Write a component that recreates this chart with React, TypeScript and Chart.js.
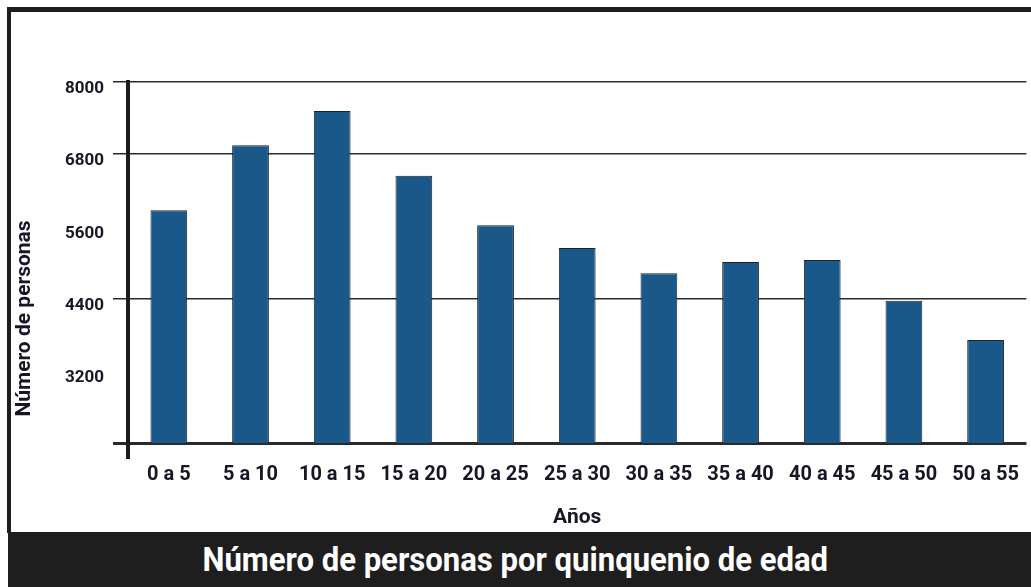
import React, { useEffect, useRef } from "react";
import { Chart, registerables } from "chart.js";

Chart.register(...registerables);

const categories = ["0 a 5", "5 a 10", "10 a 15", "15 a 20", "20 a 25", "25 a 30", "30 a 35", "35 a 40", "40 a 45", "45 a 50", "50 a 55"];
const personas = [5870, 6950, 7520, 6440, 5620, 5240, 4820, 5010, 5040, 4365, 3710];
const yTicks = [2000, 3200, 4400, 5600, 6800, 8000];
const gridValues = [2000, 4400, 6800, 8000];
const yTitle = "Número de personas";
const xTitle = "Años";
const chartTitle = "Número de personas por quinquenio de edad";

const FONT = "Roboto, 'Liberation Sans', sans-serif";

const axisPlugin = {
  id: "axisPlugin",
  afterDraw(chart: any) {
    const { ctx, chartArea } = chart;
    ctx.save();
    ctx.strokeStyle = "#1c1c1c";
    ctx.lineWidth = 4;
    ctx.beginPath();
    ctx.moveTo(chartArea.left, chartArea.top - 2);
    ctx.lineTo(chartArea.left, chartArea.bottom + 16);
    ctx.stroke();
    ctx.fillStyle = "#161625";
    ctx.font = `bold 21px ${FONT}`;
    ctx.textAlign = "center";
    ctx.textBaseline = "middle";
    ctx.translate(25, (chartArea.top + chartArea.bottom) / 2 + 56);
    ctx.rotate(-Math.PI / 2);
    ctx.fillText(yTitle, 0, 0);
    ctx.restore();
  },
};

export default function App() {
  const ref = useRef<HTMLCanvasElement | null>(null);
  const titleRef = useRef<HTMLSpanElement | null>(null);

  useEffect(() => {
    document.body.style.margin = "0";
    const t = titleRef.current;
    if (t) {
      const w = t.offsetWidth;
      if (w > 0) t.style.transform = `scaleX(${626 / w})`;
    }
    const canvas = ref.current;
    if (!canvas) return;
    const chart = new Chart(canvas, {
      type: "bar",
      data: {
        labels: categories,
        datasets: [
          {
            data: personas,
            backgroundColor: "#1a5889",
            borderColor: "#1a2530",
            borderWidth: 1,
            barPercentage: 0.9,
            categoryPercentage: 0.5,
          },
        ],
      },
      plugins: [axisPlugin],
      options: {
        animation: false,
        responsive: false,
        maintainAspectRatio: false,
        layout: { padding: { left: 0, right: 3, top: 82, bottom: 0 } },
        plugins: {
          legend: { display: false },
          tooltip: { enabled: false },
          title: { display: false },
        },
        scales: {
          x: {
            grid: { display: false },
            border: { display: false },
            ticks: {
              color: "#161625",
              font: { family: FONT, size: 20, weight: "bold" },
              padding: 12,
              maxRotation: 0,
              autoSkip: false,
            },
            title: {
              display: true,
              text: xTitle,
              color: "#161625",
              font: { family: FONT, size: 21, weight: "bold" },
              padding: { top: 12, bottom: 0 },
            },
            afterFit(scale: any) {
              scale.height = 87;
            },
          },
          y: {
            min: 2000,
            max: 8000,
            afterBuildTicks(scale: any) {
              scale.ticks = yTicks.map((v) => ({ value: v }));
            },
            grid: {
              color: (c: any) => (gridValues.includes(c.tick?.value) ? "#2a2a2a" : "rgba(0,0,0,0)"),
              lineWidth: (c: any) => (c.tick?.value === 2000 ? 3 : 1.5),
              tickLength: 15,
              drawTicks: true,
            },
            border: { display: false },
            ticks: {
              color: "#161625",
              font: { family: FONT, size: 17, weight: "bold" },
              padding: 9,
              labelOffset: 7,
              callback: (v: any) => (v === 2000 ? "" : String(v)),
            },
            afterFit(scale: any) {
              scale.width = 128;
            },
          },
        },
      },
    });
    return () => chart.destroy();
  }, []);

  return (
    <div style={{ position: "relative", width: 1031, height: 587, background: "#ffffff", overflow: "hidden" }}>
      <canvas ref={ref} width={1031} height={530} style={{ position: "absolute", left: 0, top: 0, width: 1031, height: 530 }} />
      <div style={{ position: "absolute", left: 7, top: 7, width: 1030, height: 5, background: "#1e1e1e" }} />
      <div style={{ position: "absolute", left: 7, top: 7, width: 4, height: 526, background: "#1e1e1e" }} />
      <div
        style={{
          position: "absolute",
          left: 8,
          top: 532,
          width: 1023,
          height: 55,
          background: "#1e1e1e",
          display: "flex",
          alignItems: "center",
          justifyContent: "center",
          paddingRight: 8,
          boxSizing: "border-box",
        }}
      >
        <span
          ref={titleRef}
          style={{
            display: "inline-block",
            color: "#ffffff",
            fontFamily: FONT,
            fontWeight: "bold",
            fontSize: 33,
            whiteSpace: "nowrap",
            lineHeight: "1",
            transformOrigin: "center center",
          }}
        >
          {chartTitle}
        </span>
      </div>
    </div>
  );
}
